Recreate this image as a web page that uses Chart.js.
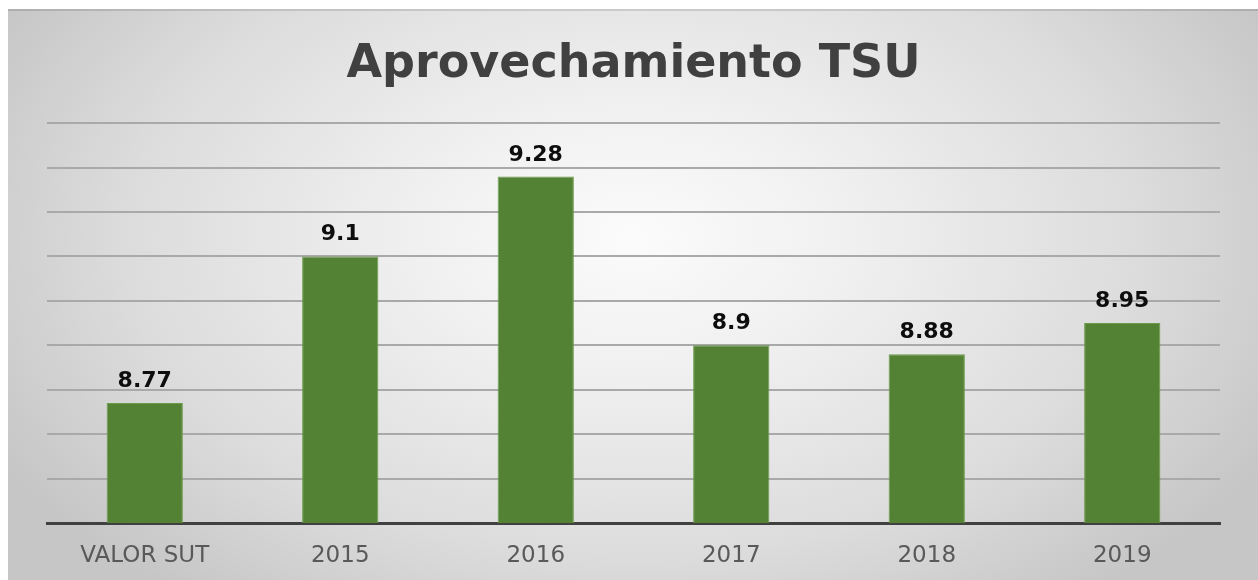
<!DOCTYPE html>
<html>
<head>
<meta charset="utf-8">
<script src="https://cdn.jsdelivr.net/npm/chart.js@4"></script>
<style>
  html, body { margin: 0; padding: 0; background: #ffffff; }
  #wrap { position: absolute; left: 8px; top: 9px; width: 1250px; height: 571px; }
  canvas { display: block; }
</style>
</head>
<body>
<div id="wrap"><canvas id="c" width="1250" height="571"></canvas></div>
<script>
const titleText = 'Aprovechamiento TSU';
const categories = ['VALOR SUT', '2015', '2016', '2017', '2018', '2019'];
const values = [8.77, 9.1, 9.28, 8.9, 8.88, 8.95];
const valueLabels = ['8.77', '9.1', '9.28', '8.9', '8.88', '8.95'];
const yTicks = [8.5, 8.6, 8.7, 8.8, 8.9, 9.0, 9.1, 9.2, 9.3, 9.4];

const bgPlugin = {
  id: 'bg',
  beforeDraw(chart) {
    const ctx = chart.ctx;
    const w = chart.width, h = chart.height;
    ctx.save();
    const cx = w * 0.5, cy = h * 0.4;
    const rx = w * 0.58, ry = h * 0.8;
    ctx.translate(cx, cy);
    ctx.scale(1, ry / rx);
    const g = ctx.createRadialGradient(0, 0, 0, 0, 0, rx);
    g.addColorStop(0, '#fbfbfb');
    g.addColorStop(0.3, '#f0f0f0');
    g.addColorStop(0.7, '#dcdcdc');
    g.addColorStop(1, '#c6c6c6');
    ctx.fillStyle = g;
    ctx.fillRect(-cx, -cy * rx / ry, w, h * rx / ry);
    ctx.restore();
    ctx.save();
    ctx.fillStyle = 'rgba(0,0,0,0.12)';
    ctx.fillRect(0, 0, w, 2);
    ctx.restore();
  }
};

const labelPlugin = {
  id: 'valueLabels',
  afterDatasetsDraw(chart) {
    const ctx = chart.ctx;
    const meta = chart.getDatasetMeta(0);
    ctx.save();
    ctx.font = 'bold 22px "DejaVu Sans"';
    ctx.fillStyle = '#0d0d0d';
    ctx.textAlign = 'center';
    ctx.textBaseline = 'alphabetic';
    meta.data.forEach((el, i) => {
      ctx.fillText(valueLabels[i], el.x, el.y - 16);
    });
    ctx.restore();
  }
};

new Chart(document.getElementById('c'), {
  type: 'bar',
  data: {
    labels: categories,
    datasets: [{
      data: values,
      backgroundColor: '#548235',
      borderColor: '#6a9c47',
      borderWidth: 1,
      barPercentage: 0.39,
      categoryPercentage: 1.0
    }]
  },
  options: {
    responsive: false,
    animation: false,
    layout: { padding: { left: 39, right: 38, top: 0, bottom: 0 } },
    plugins: {
      legend: { display: false },
      tooltip: { enabled: false },
      title: {
        display: true,
        text: titleText,
        color: '#404040',
        font: { family: '"DejaVu Sans"', size: 46, weight: 'bold', lineHeight: 1.2 },
        padding: { top: 28, bottom: 31 }
      }
    },
    scales: {
      x: {
        grid: { display: false, drawTicks: false },
        border: { display: true, color: '#404040', width: 3 },
        ticks: {
          color: '#595959',
          font: { family: '"DejaVu Sans"', size: 23 },
          padding: 19,
          maxRotation: 0,
          autoSkip: false
        },
        afterFit(scale) { scale.height = 57; }
      },
      y: {
        min: 8.5,
        max: 9.4,
        afterBuildTicks(scale) { scale.ticks = yTicks.map(v => ({ value: v })); },
        ticks: { display: false },
        grid: {
          drawTicks: false,
          lineWidth: 2,
          color: (c) => (c.tick && c.tick.value === 8.5) ? 'rgba(0,0,0,0)' : '#a9a9a9'
        },
        border: { display: false },
        afterFit(scale) { scale.width = 0; }
      }
    }
  },
  plugins: [bgPlugin, labelPlugin]
});
</script>
</body>
</html>
